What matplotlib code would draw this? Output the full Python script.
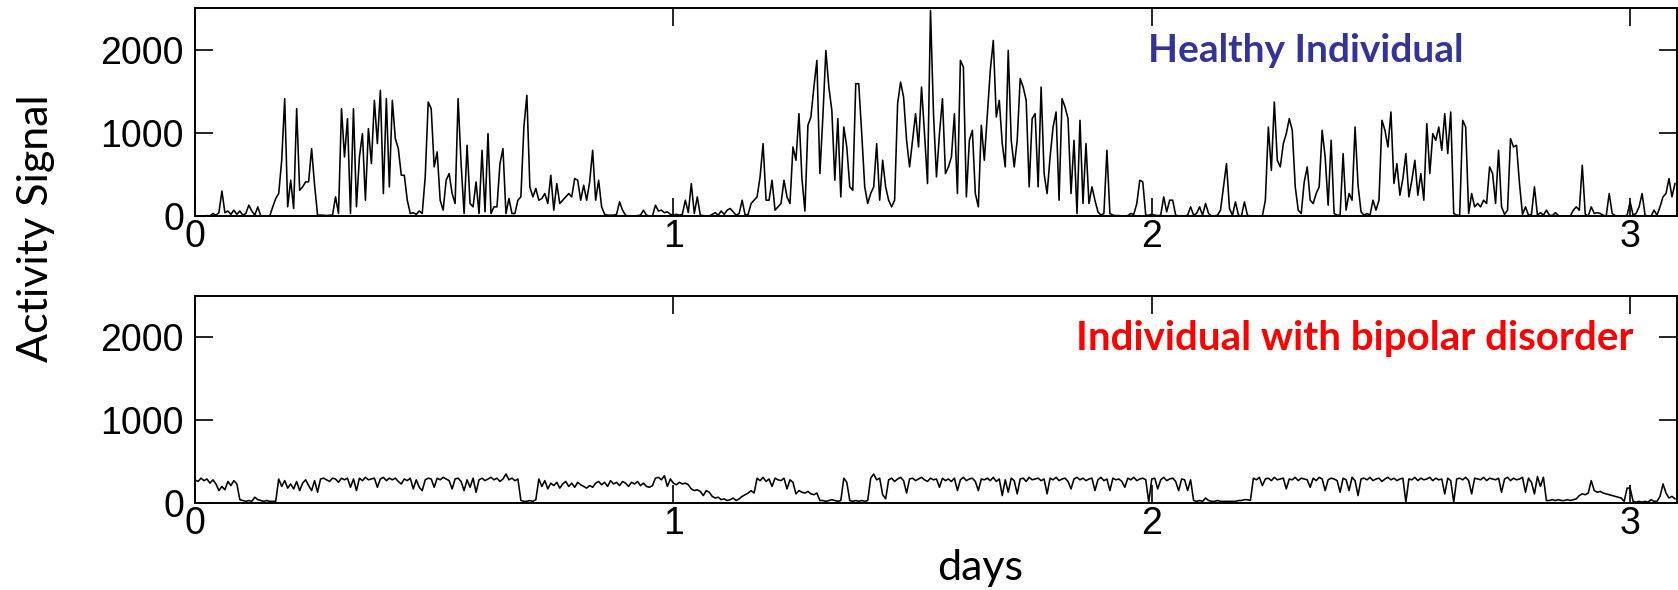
import numpy as np
import matplotlib
matplotlib.use("Agg")
import matplotlib.pyplot as plt

# ---- data (160 samples per day) ----
samples_per_day = 160

healthy = [
    0, 0, 0, 0, 5, 0, 30, 10, 40, 300,
    40, 60, 20, 70, 20, 60, 10, 30, 130, 60,
    10, 110, 0, 0, 0, 0, 110, 210, 270, 670,
    1410, 110, 430, 90, 1290, 310, 350, 410, 410, 810,
    370, 10, 10, 10, 5, 10, 10, 230, 30, 1290,
    710, 1170, 30, 1290, 110, 710, 990, 190, 1050, 630,
    1390, 870, 1510, 270, 1410, 350, 1390, 930, 810, 490,
    490, 190, 30, 40, 20, 60, 30, 470, 1370, 1290,
    590, 770, 190, 70, 430, 510, 270, 150, 1410, 630,
    30, 850, 150, 110, 410, 30, 790, 50, 990, 30,
    110, 110, 630, 810, 30, 210, 30, 30, 190, 230,
    1070, 1450, 350, 230, 330, 190, 210, 270, 150, 490,
    70, 390, 150, 190, 230, 270, 230, 450, 430, 190,
    370, 190, 410, 790, 190, 430, 110, 20, 10, 10,
    10, 20, 170, 70, 10, 0, 0, 0, 5, 10,
    70, 10, 0, 0, 130, 60, 70, 40, 50, 20,
    10, 20, 10, 20, 190, 40, 390, 30, 230, 10,
    5, 0, 0, 20, 40, 10, 60, 20, 70, 90,
    50, 10, 30, 190, 10, 20, 150, 190, 230, 470,
    870, 190, 190, 430, 70, 110, 150, 430, 230, 150,
    830, 670, 1230, 450, 60, 1090, 1190, 1550, 1870, 510,
    1190, 1990, 1550, 1270, 430, 1170, 230, 1070, 830, 350,
    310, 1590, 1590, 990, 350, 150, 270, 350, 870, 190,
    670, 350, 190, 110, 190, 1350, 1610, 1430, 910, 590,
    910, 1230, 830, 1550, 990, 390, 2470, 1230, 470, 990,
    1410, 510, 590, 710, 1230, 270, 1870, 1790, 230, 910,
    1030, 270, 110, 1090, 670, 1210, 1750, 2110, 1190, 1390,
    870, 590, 1990, 910, 590, 910, 1650, 1550, 1390, 350,
    1170, 1230, 350, 1550, 510, 270, 710, 1070, 1250, 190,
    1410, 1310, 1170, 270, 910, 30, 1150, 150, 870, 150,
    350, 190, 50, 10, 30, 790, 30, 10, 5, 5,
    0, 0, 5, 30, 20, 150, 430, 410, 10, 10,
    20, 10, 5, 10, 230, 50, 190, 190, 10, 0,
    0, 0, 10, 110, 10, 30, 110, 10, 150, 30,
    0, 0, 10, 70, 350, 630, 90, 10, 170, 10,
    0, 170, 10, 0, 0, 0, 0, 0, 190, 1070,
    550, 1370, 670, 590, 870, 990, 1170, 1030, 350, 70,
    30, 410, 590, 190, 150, 270, 350, 1030, 710, 130,
    910, 30, 10, 10, 750, 70, 270, 190, 1070, 370,
    50, 10, 30, 10, 190, 70, 190, 1150, 1030, 830,
    1250, 390, 630, 250, 450, 750, 230, 430, 670, 250,
    510, 190, 1110, 510, 990, 910, 1070, 790, 1230, 750,
    1250, 30, 10, 10, 1150, 1070, 30, 270, 110, 150,
    110, 190, 150, 590, 510, 150, 790, 110, 20, 70,
    930, 830, 850, 390, 20, 110, 10, 20, 350, 10,
    40, 10, 70, 10, 5, 40, 5, 0, 0, 0,
    0, 70, 110, 70, 610, 20, 0, 110, 30, 40,
    30, 10, 0, 270, 30, 5, 0, 0, 0, 10,
    170, 10, 30, 110, 270, 10, 0, 0, 70, 10,
    110, 230, 270, 450, 230, 390,
]

bipolar = [
    280, 260, 300, 270, 290, 240, 280, 230, 150, 200,
    160, 260, 210, 270, 230, 40, 30, 20, 30, 20,
    70, 40, 30, 20, 30, 20, 20, 20, 290, 200,
    270, 180, 230, 170, 260, 150, 240, 280, 210, 150,
    270, 130, 290, 300, 280, 260, 300, 290, 250, 300,
    280, 300, 190, 290, 150, 300, 270, 310, 280, 290,
    300, 190, 290, 310, 270, 300, 280, 300, 260, 230,
    290, 270, 300, 170, 280, 190, 150, 280, 300, 290,
    190, 300, 280, 310, 290, 270, 170, 290, 300, 260,
    150, 280, 190, 300, 130, 280, 300, 270, 290, 310,
    280, 300, 260, 290, 350, 280, 300, 270, 290, 30,
    20, 20, 30, 20, 40, 290, 200, 270, 170, 240,
    210, 250, 180, 230, 260, 200, 240, 190, 250, 220,
    200, 180, 210, 190, 240, 260, 220, 250, 200, 270,
    230, 250, 210, 260, 240, 200, 250, 230, 260, 210,
    240, 200, 190, 210, 300, 310, 280, 330, 200, 290,
    240, 220, 250, 230, 240, 220, 170, 150, 160, 140,
    90, 150, 130, 80, 60, 70, 40, 50, 30, 40,
    60, 30, 50, 80, 100, 120, 150, 120, 300, 270,
    310, 260, 290, 200, 300, 280, 270, 300, 170, 280,
    250, 110, 150, 130, 120, 140, 110, 100, 120, 30,
    30, 20, 30, 40, 30, 20, 30, 300, 250, 30,
    20, 30, 20, 30, 20, 30, 300, 350, 280, 300,
    100, 50, 280, 300, 260, 290, 310, 270, 120, 290,
    300, 270, 290, 310, 280, 260, 300, 280, 290, 190,
    300, 270, 290, 260, 300, 150, 280, 310, 270, 290,
    300, 260, 150, 290, 280, 300, 270, 310, 260, 290,
    90, 280, 130, 300, 270, 110, 290, 300, 260, 310,
    280, 290, 300, 270, 290, 110, 300, 280, 310, 270,
    290, 300, 260, 170, 290, 310, 280, 300, 270, 290,
    300, 150, 280, 310, 270, 290, 150, 300, 280, 290,
    260, 190, 300, 280, 310, 270, 290, 300, 280, 10,
    290, 300, 170, 280, 310, 270, 290, 300, 260, 150,
    290, 280, 150, 280, 30, 20, 30, 20, 60, 30,
    20, 20, 30, 20, 20, 20, 20, 20, 20, 30,
    30, 40, 40, 30, 300, 280, 310, 210, 290, 300,
    270, 310, 280, 290, 300, 170, 290, 280, 310, 270,
    300, 290, 280, 190, 300, 270, 310, 290, 150, 280,
    300, 290, 270, 130, 300, 280, 150, 310, 270, 90,
    290, 300, 280, 310, 270, 290, 300, 260, 290, 310,
    280, 300, 270, 290, 300, 10, 290, 280, 310, 270,
    300, 280, 290, 310, 270, 300, 280, 290, 110, 300,
    270, 10, 290, 300, 280, 310, 270, 110, 300, 290,
    280, 310, 270, 300, 290, 280, 300, 130, 290, 310,
    270, 300, 280, 290, 310, 130, 300, 250, 110, 320,
    200, 310, 30, 30, 40, 30, 40, 30, 30, 40,
    30, 40, 50, 90, 110, 100, 120, 270, 150, 130,
    140, 120, 110, 100, 90, 80, 70, 60, 20, 180,
    180, 20, 10, 20, 10, 20, 10, 40, 20, 20,
    80, 230, 120, 60, 80, 50,
]

x_ticks = [0, 1, 2, 3]
y_ticks = [0, 1000, 2000]
panel_labels = ["Healthy Individual", "Individual with bipolar disorder"]
panel_colors = ["#333399", "#FF0000"]

# ---- figure ----
W, H = 1678, 590
fig = plt.figure(figsize=(W / 100, H / 100), dpi=100)

def fx(px):
    return px / W

def fy(py):
    return 1 - py / H

left_px, right_px = 195, 1677
ax_top = fig.add_axes([fx(left_px), fy(216), fx(right_px - left_px), 208 / H])
ax_bot = fig.add_axes([fx(left_px), fy(503), fx(right_px - left_px), 207 / H])

tick_font = {"family": ["Liberation Sans", "DejaVu Sans"], "size": 27}

for ax, series in ((ax_top, healthy), (ax_bot, bipolar)):
    t = np.arange(len(series)) / samples_per_day
    ax.plot(t, series, color="black", lw=1.15)
    ax.set_xlim(0, 3.098)
    ax.set_ylim(0, 2500)
    ax.set_xticks(x_ticks)
    ax.set_yticks(y_ticks)
    ax.set_xticklabels([str(v) for v in x_ticks], fontdict=tick_font)
    ax.set_yticklabels([str(v) for v in y_ticks], fontdict=tick_font)
    ax.tick_params(axis="both", direction="in", length=13, width=1.2,
                   top=True, right=True)
    ax.tick_params(axis="x", pad=2)
    ax.tick_params(axis="y", pad=8)
    for sp in ax.spines.values():
        sp.set_linewidth(1.4)
        sp.set_color("black")

# panel labels
fig.text(fx(1148), fy(62), panel_labels[0], color=panel_colors[0],
         fontsize=28, fontweight="bold", family=["Lato", "DejaVu Sans"],
         ha="left", va="baseline")
fig.text(fx(1634), fy(350), panel_labels[1], color=panel_colors[1],
         fontsize=29, fontweight="bold", family=["Lato", "DejaVu Sans"],
         ha="right", va="baseline")

# axis labels
fig.text(fx(36), fy(228), "Activity Signal", rotation=90, fontsize=31,
         family=["Lato", "DejaVu Sans"], ha="center", va="center")
fig.text(fx(980), fy(580), "days", fontsize=31,
         family=["Lato", "DejaVu Sans"], ha="center", va="baseline")

fig.savefig("out.png", dpi=100)
